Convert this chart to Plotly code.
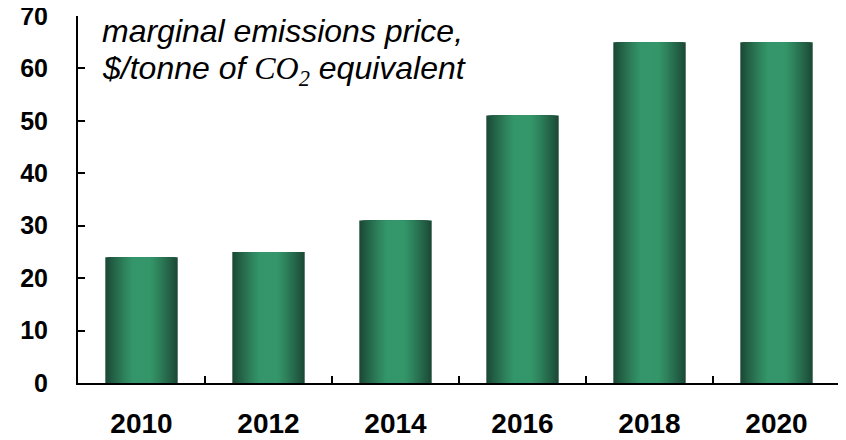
import plotly.graph_objects as go

years = ["2010", "2012", "2014", "2016", "2018", "2020"]
prices = [24, 25, 31, 51, 65, 65]
y_ticks = [0, 10, 20, 30, 40, 50, 60, 70]
label_lines = [
    "marginal emissions price,",
    "$/tonne of <span style='font-family:Liberation Serif'>CO<sub>2</sub></span> equivalent",
]

BAR_WIDTH = 0.57
EDGE = (28, 74, 54)
CENTER = (52, 150, 106)
STEPS = 18


def _shade(d):
    # d: 0 at bar centre, 1 at bar edge
    t = max(0.0, (d - 0.25) / 0.75) ** 1.2
    r, g, b = (round(c + (e - c) * t) for c, e in zip(CENTER, EDGE))
    return f"rgb({r},{g},{b})"


fig = go.Figure()
for i in range(STEPS):
    frac = 1 - i / STEPS
    fig.add_trace(
        go.Bar(
            x=years,
            y=prices,
            width=[BAR_WIDTH * frac] * len(years),
            marker=dict(color=_shade(frac), line=dict(width=0)),
            hoverinfo="skip" if i else None,
            hovertemplate=None if i else "%{x}<br>%{y} $/t<extra></extra>",
            showlegend=False,
        )
    )

for n, line in enumerate(label_lines):
    fig.add_annotation(
        x=0, y=1, xref="paper", yref="paper", xanchor="left", yanchor="top",
        xshift=22, yshift=5 - 37 * n, align="left", showarrow=False,
        text=f"<i>{line}</i>",
        font=dict(family="Liberation Sans, Arial", size=32, color="black"),
    )

# page body has an 8px margin, so the figure is sized to fill the rest
fig.update_layout(
    width=838, height=432,
    margin=dict(l=70, r=6, t=8, b=57, autoexpand=False),
    barmode="overlay",
    plot_bgcolor="white", paper_bgcolor="white",
    font=dict(family="Liberation Sans, Arial", size=20, color="black"),
)
fig.update_xaxes(
    automargin=False,
    showline=True, linecolor="black", linewidth=2,
    ticks="inside", ticklen=7, tickcolor="black", tickwidth=1.5,
    tickson="boundaries", showgrid=False,
    tickfont=dict(size=28, weight="bold"), ticklabelstandoff=14,
)
fig.update_yaxes(
    automargin=False,
    range=[0, 70], tickvals=y_ticks,
    showline=True, linecolor="black", linewidth=2,
    ticks="inside", ticklen=7, tickcolor="black", tickwidth=1.5,
    showgrid=False, zeroline=False, ticklabeloverflow="allow",
    tickfont=dict(size=25, weight="bold"), ticklabelstandoff=23,
)

fig.write_html("out.html")
